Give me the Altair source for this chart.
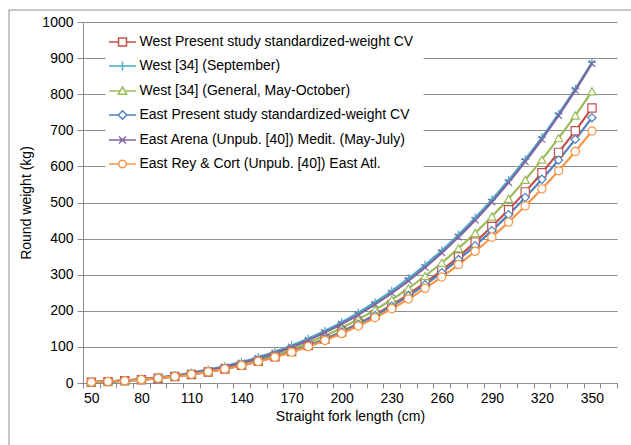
import altair as alt
import pandas as pd

lengths = [50, 60, 70, 80, 90, 100, 110, 120, 130, 140, 150, 160, 170, 180, 190, 200,
           210, 220, 230, 240, 250, 260, 270, 280, 290, 300, 310, 320, 330, 340, 350]

west_present = [2.2, 3.8, 6.1, 9.1, 13.0, 17.8, 23.7, 30.7, 39.0, 48.8, 60.0, 72.8, 87.3, 103.6, 121.9, 142.2,
                164.6, 189.3, 216.3, 245.7, 277.7, 312.3, 349.8, 390.2, 433.4, 479.8, 529.4, 582.4, 638.8, 698.5, 762.0]
west_sept = [2.7, 4.7, 7.5, 11.1, 15.7, 21.5, 28.5, 37.0, 46.9, 58.4, 71.7, 86.8, 104.0, 123.2, 144.7, 168.5,
             194.8, 223.6, 255.1, 289.6, 326.9, 367.2, 410.9, 457.8, 507.9, 561.7, 619.2, 680.6, 745.7, 814.7, 888.0]
west_general = [2.4, 4.2, 6.7, 9.9, 14.1, 19.3, 25.7, 33.3, 42.2, 52.7, 64.7, 78.4, 93.9, 111.3, 130.9, 152.5,
                176.4, 202.6, 231.2, 262.4, 296.4, 333.1, 372.9, 415.6, 461.3, 510.3, 562.8, 618.7, 678.2, 741.1, 808.0]
east_present = [2.4, 4.0, 6.4, 9.4, 13.4, 18.2, 24.2, 31.2, 39.6, 49.2, 60.4, 73.0, 87.3, 103.3, 121.2, 141.1,
                162.9, 186.8, 213.0, 241.5, 272.4, 305.8, 341.9, 380.6, 422.0, 466.4, 513.8, 564.3, 617.9, 674.8, 735.0]
east_arena = [2.5, 4.3, 6.9, 10.3, 14.7, 20.1, 26.8, 34.9, 44.5, 55.6, 68.5, 83.2, 99.9, 118.7, 139.8, 163.3,
              189.2, 217.8, 249.0, 283.2, 320.3, 360.6, 404.2, 451.2, 501.4, 555.5, 613.4, 675.2, 741.0, 810.7, 885.0]
east_rey = [2.4, 4.1, 6.5, 9.5, 13.4, 18.2, 24.1, 31.0, 39.1, 48.5, 59.3, 71.5, 85.4, 100.8, 118.0, 137.0,
            157.9, 180.7, 205.7, 232.8, 262.2, 293.9, 328.1, 364.7, 403.8, 445.7, 490.3, 537.8, 588.2, 641.5, 698.0]

series_names = [
    "West Present study  standardized-weight CV",
    "West [34] (September)",
    "West [34] (General, May-October)",
    "East Present study standardized-weight CV",
    "East Arena (Unpub. [40]) Medit. (May-July)",
    "East Rey & Cort (Unpub. [40]) East Atl.",
]
series_values = [west_present, west_sept, west_general, east_present, east_arena, east_rey]
series_colors = ["#C0504D", "#4BACC6", "#9BBB59", "#4F81BD", "#8064A2", "#F79646"]
point_shapes = ["square", "M-1,0H1M0,-1V1", "triangle-up", "diamond",
                "M-0.8,-0.8L0.8,0.8M-0.8,0.8L0.8,-0.8", "circle"]
legend_paths = [
    "M-1.35,0H-0.4M0.4,0H1.35M-0.4,-0.4H0.4V0.4H-0.4Z",
    "M-1.35,0H1.35M0,-0.45V0.45",
    "M-1.35,0H-0.24M0.24,0H1.35M0,-0.42L0.42,0.32H-0.42Z",
    "M-1.35,0H-0.42M0.42,0H1.35M0,-0.42L0.42,0L0,0.42L-0.42,0Z",
    "M-1.35,0H1.35M-0.35,-0.35L0.35,0.35M-0.35,0.35L0.35,-0.35",
    "M-1.35,0H-0.38M0.38,0H1.35M0.38,0A0.38,0.38,0,1,1,-0.38,0A0.38,0.38,0,1,1,0.38,0Z",
]

rows = []
for name, vals in zip(series_names, series_values):
    for L, w in zip(lengths, vals):
        rows.append({"length": L, "weight": w, "series": name})
df = pd.DataFrame(rows)

FONT = "Liberation Sans"
GRID = "#8C8C8C"

legend_expr = " : ".join(
    f"datum.value === '{n}' ? '{p}'" for n, p in zip(series_names, legend_paths)
) + " : 'circle'"

x_enc = alt.X(
    "length:Q",
    scale=alt.Scale(domain=[45, 365], nice=False, zero=False),
    axis=alt.Axis(
        values=list(range(45, 370, 5)),
        labelExpr="((datum.value - 50) % 30 === 0 && datum.value <= 350) ? datum.label : ''",
        tickOpacity={"condition": {"test": "(datum.value - 45) % 10 === 0", "value": 1}, "value": 0},
        grid=False, tickSize=5, labelPadding=3, labelOverlap=False, labelFlush=False,
        domainColor=GRID, tickColor=GRID, labelFont=FONT, labelFontSize=14, labelColor="#000000",
        title="Straight fork length (cm)", titleFont=FONT, titleFontSize=14,
        titleFontWeight="normal", titleColor="#000000", titlePadding=4,
    ),
)
y_enc = alt.Y(
    "weight:Q",
    scale=alt.Scale(domain=[0, 1000], nice=False),
    axis=alt.Axis(
        values=list(range(0, 1001, 100)), format="d",
        grid=True, gridColor=GRID, gridWidth=1, tickSize=6, labelPadding=4,
        domainColor=GRID, tickColor=GRID, labelFont=FONT, labelFontSize=14, labelColor="#000000",
        title="Round weight (kg)", titleFont=FONT, titleFontSize=14,
        titleFontWeight="normal", titleColor="#000000", titlePadding=8,
    ),
)
color_scale = alt.Scale(domain=series_names, range=series_colors)

lines = alt.Chart(df).mark_line(strokeWidth=2.2, interpolate="monotone").encode(
    x=x_enc, y=y_enc,
    color=alt.Color(
        "series:N", scale=color_scale,
        legend=alt.Legend(
            title=None, orient="none", legendX=22.5, legendY=3, padding=6,
            fillColor="white", symbolSize=400, symbolStrokeWidth=1.5,
            symbolType={"expr": legend_expr}, symbolFillColor="white",
            labelFont=FONT, labelFontSize=14, labelColor="#000000",
            labelOffset=6, rowPadding=6, labelLimit=500,
        ),
    ),
)

points = alt.Chart(df).mark_point(
    filled=False, fill="white", fillOpacity=1, size=68, strokeWidth=1.2, opacity=1
).encode(
    x=x_enc, y=y_enc,
    color=alt.Color("series:N", scale=color_scale, legend=None),
    shape=alt.Shape("series:N", scale=alt.Scale(domain=series_names, range=point_shapes), legend=None),
)

frame_df = pd.DataFrame({"a": [0]})
frame_left = alt.Chart(frame_df).mark_rule(color="#8C8C8C", strokeWidth=1).encode(
    x=alt.value(-74), y=alt.value(-12), y2=alt.value(600)
)
frame_top = alt.Chart(frame_df).mark_rule(color="#8C8C8C", strokeWidth=1).encode(
    x=alt.value(-74), x2=alt.value(700), y=alt.value(-12)
)

chart = alt.layer(frame_left, frame_top, lines, points).resolve_legend(
    color="independent", shape="independent"
).properties(
    width=534, height=361,
    autosize=alt.AutoSizeParams(type="none"),
    padding={"left": 83, "top": 22, "right": 14, "bottom": 62},
    background="white",
).configure_view(stroke=None)

chart.save("out.html", embed_options={"renderer": "svg", "actions": False})
